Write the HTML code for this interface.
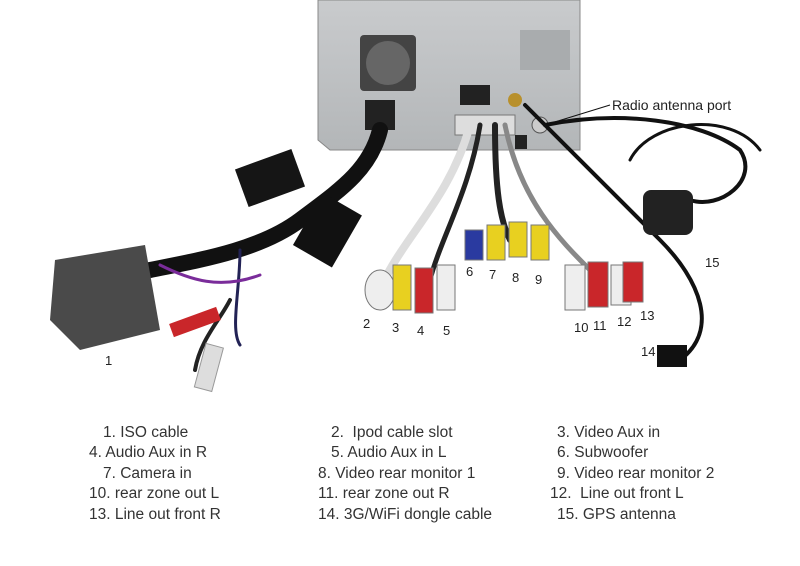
<!DOCTYPE html>
<html><head><meta charset="utf-8"><style>
html,body{margin:0;padding:0;background:#fff;}
#c{position:relative;width:800px;height:566px;overflow:hidden;font-family:"Liberation Sans",sans-serif;color:#333;}
.t{position:absolute;font-size:15.5px;white-space:pre;line-height:18px;}
.n{position:absolute;font-size:13px;color:#222;}
</style></head><body><div id="c">
<svg width="800" height="400" style="position:absolute;left:0;top:0">
<defs><linearGradient id="g" x1="0" x2="0" y1="0" y2="1"><stop offset="0" stop-color="#c9cbcd"/><stop offset="1" stop-color="#b3b6b8"/></linearGradient></defs>
<polygon points="318,0 580,0 580,150 330,150 318,140" fill="url(#g)" stroke="#888"/>
<rect x="360" y="35" width="56" height="56" fill="#444" rx="4"/>
<circle cx="388" cy="63" r="22" fill="#666"/>
<rect x="365" y="100" width="30" height="30" fill="#222"/>
<rect x="520" y="30" width="50" height="40" fill="#a9acae"/>
<rect x="460" y="85" width="30" height="20" fill="#222"/>
<rect x="455" y="115" width="60" height="20" fill="#ddd" stroke="#777"/>
<circle cx="515" cy="100" r="7" fill="#b8902c"/>
<circle cx="540" cy="125" r="8" fill="#ccc" stroke="#555"/>
<rect x="515" y="135" width="12" height="14" fill="#222"/>
<g fill="none" stroke-linecap="round">
<path d="M380,130 C370,170 340,190 300,220 C260,250 200,260 150,270" stroke="#111" stroke-width="16"/>
<path d="M470,125 C450,200 400,240 380,290" stroke="#ddd" stroke-width="8"/>
<path d="M480,125 C470,190 440,240 430,280" stroke="#222" stroke-width="5"/>
<path d="M495,125 C495,190 500,220 510,240" stroke="#222" stroke-width="6"/>
<path d="M505,125 C520,200 560,240 590,270" stroke="#888" stroke-width="5"/>
<path d="M525,105 C580,160 620,200 660,240 C700,280 720,330 680,360" stroke="#111" stroke-width="4"/>
<path d="M545,125 C620,110 700,120 740,150 C760,180 720,210 690,200" stroke="#111" stroke-width="4"/>
<path d="M630,160 C650,120 730,110 760,150" stroke="#111" stroke-width="3"/>
<path d="M230,300 C220,320 200,340 195,370" stroke="#222" stroke-width="4"/>
<path d="M240,250 C240,290 230,330 240,345" stroke="#225" stroke-width="3"/>
<path d="M160,265 C190,280 220,290 260,275" stroke="#7a2c9a" stroke-width="3"/>
</g>
<rect x="240" y="158" width="60" height="40" fill="#151515" transform="rotate(-20 270 178)"/>
<rect x="305" y="200" width="45" height="60" fill="#111" transform="rotate(30 327 230)"/>
<path d="M55,260 L145,245 L160,330 L80,350 L50,320 Z" fill="#4a4a4a"/>
<rect x="170" y="315" width="50" height="14" fill="#c9262a" transform="rotate(-20 195 322)"/>
<rect x="200" y="345" width="18" height="45" fill="#ddd" stroke="#999" transform="rotate(15 209 367)"/>
<g stroke="#777" stroke-width="1">
<ellipse cx="380" cy="290" rx="15" ry="20" fill="#eee"/>
<rect x="393" y="265" width="18" height="45" fill="#e8d020"/>
<rect x="415" y="268" width="18" height="45" fill="#c9262a"/>
<rect x="437" y="265" width="18" height="45" fill="#eee"/>
<rect x="465" y="230" width="18" height="30" fill="#2a3aa0"/>
<rect x="487" y="225" width="18" height="35" fill="#e8d020"/>
<rect x="509" y="222" width="18" height="35" fill="#e8d020"/>
<rect x="531" y="225" width="18" height="35" fill="#e8d020"/>
<rect x="565" y="265" width="20" height="45" fill="#eee"/>
<rect x="588" y="262" width="20" height="45" fill="#c9262a"/>
<rect x="611" y="265" width="20" height="40" fill="#eee"/>
<rect x="623" y="262" width="20" height="40" fill="#c9262a"/>
</g>
<rect x="643" y="190" width="50" height="45" rx="8" fill="#222"/>
<rect x="657" y="345" width="30" height="22" fill="#111"/>
<line x1="545" y1="125" x2="610" y2="105" stroke="#111" stroke-width="1"/>
</svg>
<div class="n" style="left:612px;top:97px;font-size:14px">Radio antenna port</div>
<div class="n" style="left:105px;top:353px">1</div>
<div class="n" style="left:363px;top:316px">2</div>
<div class="n" style="left:392px;top:320px">3</div>
<div class="n" style="left:417px;top:323px">4</div>
<div class="n" style="left:443px;top:323px">5</div>
<div class="n" style="left:466px;top:264px">6</div>
<div class="n" style="left:489px;top:267px">7</div>
<div class="n" style="left:512px;top:270px">8</div>
<div class="n" style="left:535px;top:272px">9</div>
<div class="n" style="left:574px;top:320px">10</div>
<div class="n" style="left:593px;top:318px">11</div>
<div class="n" style="left:617px;top:314px">12</div>
<div class="n" style="left:640px;top:308px">13</div>
<div class="n" style="left:641px;top:344px">14</div>
<div class="n" style="left:705px;top:255px">15</div>

<div class="t" style="left:103px;top:424px">1. ISO cable</div>
<div class="t" style="left:331px;top:424px">2.  Ipod cable slot</div>
<div class="t" style="left:557px;top:424px">3. Video Aux in</div>
<div class="t" style="left:89px;top:444px">4. Audio Aux in R</div>
<div class="t" style="left:331px;top:444px">5. Audio Aux in L</div>
<div class="t" style="left:557px;top:444px">6. Subwoofer</div>
<div class="t" style="left:103px;top:465px">7. Camera in</div>
<div class="t" style="left:318px;top:465px">8. Video rear monitor 1</div>
<div class="t" style="left:557px;top:465px">9. Video rear monitor 2</div>
<div class="t" style="left:89px;top:485px">10. rear zone out L</div>
<div class="t" style="left:318px;top:485px">11. rear zone out R</div>
<div class="t" style="left:550px;top:485px">12.  Line out front L</div>
<div class="t" style="left:89px;top:506px">13. Line out front R</div>
<div class="t" style="left:318px;top:506px">14. 3G/WiFi dongle cable</div>
<div class="t" style="left:557px;top:506px">15. GPS antenna</div>
</div></body></html>
